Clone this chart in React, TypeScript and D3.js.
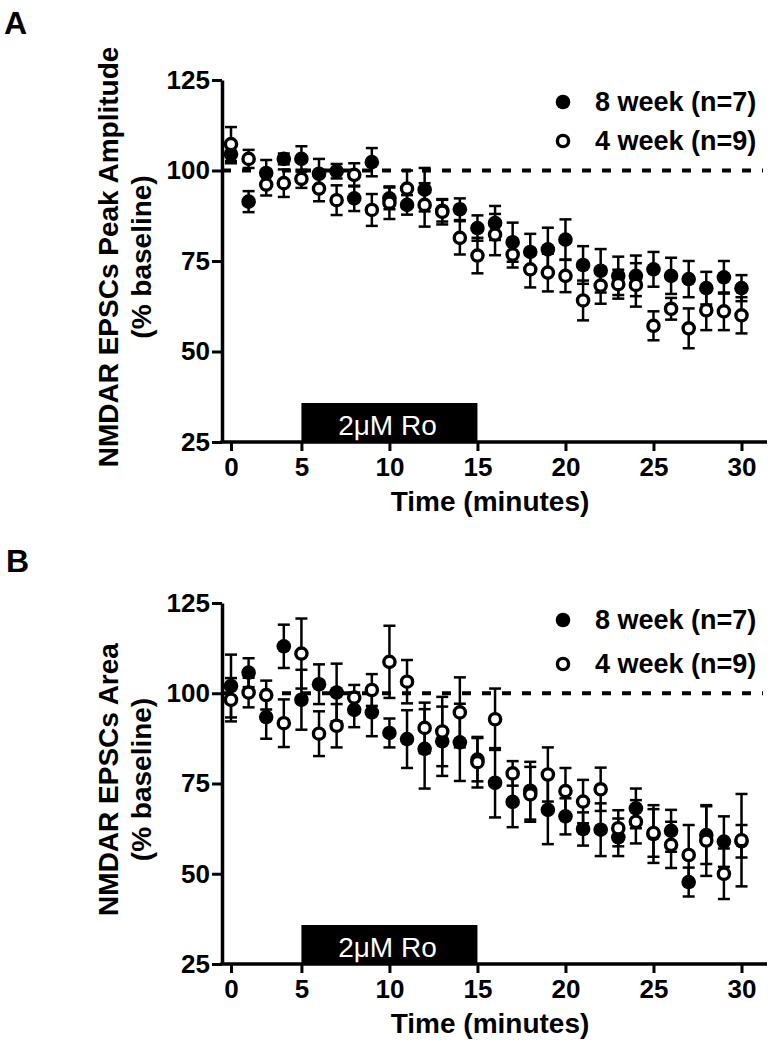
import React, { useEffect, useRef } from 'react'
import * as d3 from 'd3'

// time points (one sweep per minute); the "0" tick sits on the first sweep
const minutes = [1, 2, 3, 4, 5, 6, 7, 8, 9, 10, 11, 12, 13, 14, 15, 16, 17, 18, 19, 20, 21, 22, 23, 24, 25, 26, 27, 28, 29, 30]
const xTickValues = [1, 5, 10, 15, 20, 25, 30]
const xTickLabels = ['0', '5', '10', '15', '20', '25', '30']
const yTickValues = [25, 50, 75, 100, 125]
const legendLabels = ['8 week (n=7)', '4 week (n=9)']
const drugLabel = '2\u03bcM Ro'
const drugStart = 5
const drugEnd = 15
const baselineValue = 100

// A: peak amplitude (% baseline)
const ampEight = [104.5, 91.4, 99.3, 103.2, 103.2, 99.1, 99.8, 92.3, 102.3, 92.3, 90.5, 94.7, 88.9, 89.3, 84.1, 85.5, 80.2, 77.5, 78.2, 80.9, 73.9, 72.3, 70.9, 70.9, 72.7, 70.9, 70.0, 67.5, 70.5, 67.5]
const ampEightErr = [2.5, 2.9, 3.6, 1.5, 3.5, 4.1, 2.0, 3.5, 3.9, 3.0, 2.7, 6.0, 3.0, 3.0, 3.5, 4.7, 5.4, 5.0, 6.0, 5.6, 5.2, 6.0, 5.3, 5.6, 4.8, 5.0, 5.0, 4.5, 4.5, 3.6]
const ampFour = [107.3, 103.2, 96.1, 96.5, 97.7, 95.0, 91.8, 98.8, 89.1, 91.1, 95.0, 90.5, 88.6, 81.4, 76.5, 82.3, 76.8, 72.7, 71.8, 70.9, 64.1, 68.2, 68.6, 68.4, 57.1, 61.8, 56.4, 61.4, 61.1, 60.0]
const ampFourErr = [4.7, 2.5, 3.0, 3.8, 2.5, 3.5, 4.1, 3.2, 4.4, 4.5, 5.0, 6.0, 3.5, 4.6, 4.9, 5.7, 3.6, 5.0, 5.2, 4.5, 5.5, 5.0, 4.0, 6.0, 4.0, 3.0, 5.5, 5.5, 5.2, 5.0]

// B: area (% baseline)
const areaEight = [102.0, 105.7, 93.4, 113.0, 98.2, 102.5, 100.2, 95.4, 94.7, 89.0, 87.3, 84.6, 86.7, 86.4, 81.6, 75.2, 69.9, 73.0, 67.7, 65.9, 62.4, 62.2, 60.1, 68.1, 61.0, 61.9, 47.7, 60.7, 58.9, 59.0]
const areaEightErr = [8.7, 4.0, 6.0, 6.0, 8.3, 5.5, 8.0, 4.8, 6.6, 4.0, 8.0, 11.0, 9.6, 10.7, 6.0, 9.6, 7.0, 8.0, 9.5, 5.0, 4.6, 7.3, 5.2, 5.5, 8.0, 5.8, 4.0, 8.0, 7.0, 4.5]
const areaFour = [98.2, 100.2, 99.5, 91.7, 111.0, 88.8, 91.0, 98.8, 100.9, 108.7, 103.2, 90.4, 89.4, 94.7, 80.9, 92.8, 77.8, 72.0, 77.5, 72.9, 70.0, 73.4, 62.6, 64.4, 61.3, 58.0, 55.2, 59.2, 50.0, 59.3]
const areaFourErr = [6.0, 4.1, 4.0, 6.6, 9.7, 6.2, 6.0, 3.5, 4.4, 10.0, 6.0, 7.0, 9.6, 9.7, 7.0, 8.5, 3.4, 7.6, 7.5, 6.4, 6.0, 6.0, 5.0, 6.0, 6.6, 6.4, 8.3, 9.8, 7.0, 12.8]

const FONT = '"Liberation Sans", Arial, Helvetica, sans-serif'

const panels = [
  {
    letter: 'A', letterX: 4, letterY: 34,
    title: 'NMDAR EPSCs Peak Amplitude',
    top: 80, bottom: 442,
    legendY: [102, 141],
    eight: ampEight, eightErr: ampEightErr, four: ampFour, fourErr: ampFourErr
  },
  {
    letter: 'B', letterX: 6, letterY: 572,
    title: 'NMDAR EPSCs Area',
    top: 603, bottom: 964,
    legendY: [620, 664],
    eight: areaEight, eightErr: areaEightErr, four: areaFour, fourErr: areaFourErr
  }
]

function drawPanel(svg, p) {
  const axisX = 222
  const x = d3.scaleLinear().domain([1, 30]).range([231, 741.5])
  const y = d3.scaleLinear().domain([25, 125]).range([p.bottom, p.top])
  const g = svg.append('g')

  g.append('text')
    .attr('x', p.letterX).attr('y', p.letterY)
    .attr('font-size', 32).attr('font-weight', 'bold').attr('font-family', FONT)
    .text(p.letter)

  // y title, two lines
  const cy = (p.top + p.bottom) / 2 - 4
  const title = g.append('text')
    .attr('transform', `translate(118,${cy}) rotate(-90)`)
    .attr('text-anchor', 'middle')
    .attr('font-size', 28).attr('font-weight', 'bold').attr('font-family', FONT)
  title.append('tspan').attr('x', 0).attr('y', 0).text(p.title)
  title.append('tspan').attr('x', 0).attr('y', 33).text('(% baseline)')

  // drug bar
  const barH = 39
  g.append('rect')
    .attr('x', x(drugStart)).attr('y', p.bottom - barH)
    .attr('width', x(drugEnd) - x(drugStart)).attr('height', barH)
    .attr('fill', '#000')
  g.append('text')
    .attr('x', (x(drugStart) + x(drugEnd)) / 2 - 2).attr('y', p.bottom - 7)
    .attr('text-anchor', 'middle').attr('fill', '#fff')
    .attr('font-size', 28).attr('font-family', FONT)
    .text(drugLabel)

  // dashed 100% line
  g.append('line')
    .attr('x1', axisX).attr('x2', 763)
    .attr('y1', y(baselineValue)).attr('y2', y(baselineValue))
    .attr('stroke', '#000').attr('stroke-width', 4)
    .attr('stroke-dasharray', '9,11')

  // x axis
  const xa = g.append('g')
    .attr('transform', `translate(0,${p.bottom})`)
    .call(d3.axisBottom(x).tickValues(xTickValues).tickFormat((d, i) => xTickLabels[i]).tickSize(9).tickSizeOuter(0))
  xa.select('.domain').remove()
  xa.selectAll('line').attr('stroke', '#000').attr('stroke-width', 3)
  xa.selectAll('text')
    .attr('y', 34).attr('dy', 0)
    .attr('fill', '#000').attr('font-size', 26).attr('font-weight', 'bold').attr('font-family', FONT)
  g.append('line')
    .attr('x1', axisX - 1.75).attr('x2', 767)
    .attr('y1', p.bottom).attr('y2', p.bottom)
    .attr('stroke', '#000').attr('stroke-width', 3.5)

  g.append('text')
    .attr('x', 490).attr('y', p.bottom + 69)
    .attr('text-anchor', 'middle')
    .attr('font-size', 28).attr('font-weight', 'bold').attr('font-family', FONT)
    .text('Time (minutes)')

  // y axis
  const ya = g.append('g')
    .attr('transform', `translate(${axisX},0)`)
    .call(d3.axisLeft(y).tickValues(yTickValues).tickSize(10).tickSizeOuter(0))
  ya.select('.domain').attr('stroke', '#000').attr('stroke-width', 3.5)
  ya.selectAll('line').attr('stroke', '#000').attr('stroke-width', 3)
  ya.selectAll('text')
    .attr('x', -12)
    .attr('fill', '#000').attr('font-size', 26).attr('font-weight', 'bold').attr('font-family', FONT)

  // series: filled first, open on top
  const series = [
    { vals: p.eight, errs: p.eightErr, open: false },
    { vals: p.four, errs: p.fourErr, open: true }
  ]
  series.forEach(s => {
    const sg = g.append('g')
    const rows = minutes.map((m, i) => ({ m, v: s.vals[i], e: s.errs[i] }))
    const eb = sg.selectAll('g.err').data(rows).enter().append('g')
      .attr('stroke', '#000').attr('stroke-width', 2.5)
    eb.append('line')
      .attr('x1', d => x(d.m)).attr('x2', d => x(d.m))
      .attr('y1', d => y(d.v + d.e)).attr('y2', d => y(d.v - d.e))
    eb.append('line')
      .attr('x1', d => x(d.m) - 6).attr('x2', d => x(d.m) + 6)
      .attr('y1', d => y(d.v + d.e)).attr('y2', d => y(d.v + d.e))
    eb.append('line')
      .attr('x1', d => x(d.m) - 6).attr('x2', d => x(d.m) + 6)
      .attr('y1', d => y(d.v - d.e)).attr('y2', d => y(d.v - d.e))
    sg.selectAll('circle').data(rows).enter().append('circle')
      .attr('cx', d => x(d.m)).attr('cy', d => y(d.v))
      .attr('r', s.open ? 5.6 : 7.3)
      .attr('fill', s.open ? '#fff' : '#000')
      .attr('stroke', s.open ? '#000' : 'none')
      .attr('stroke-width', 3.4)
  })

  // legend
  legendLabels.forEach((lab, i) => {
    const ly = p.legendY[i]
    g.append('circle')
      .attr('cx', 563).attr('cy', ly)
      .attr('r', i === 1 ? 5.6 : 7.3)
      .attr('fill', i === 1 ? '#fff' : '#000')
      .attr('stroke', i === 1 ? '#000' : 'none')
      .attr('stroke-width', 3.4)
    g.append('text')
      .attr('x', 595).attr('y', ly + 9)
      .attr('font-size', 27).attr('font-weight', 'bold').attr('font-family', FONT)
      .text(lab)
  })
}

export default function App() {
  const ref = useRef(null)
  useEffect(() => {
    const svg = d3.select(ref.current)
    svg.selectAll('*').remove()
    panels.forEach(p => drawPanel(svg, p))
  }, [])
  return (
    <svg ref={ref} width={772} height={1050}
      style={{ position: 'absolute', left: 0, top: 0, background: '#fff' }} />
  )
}
